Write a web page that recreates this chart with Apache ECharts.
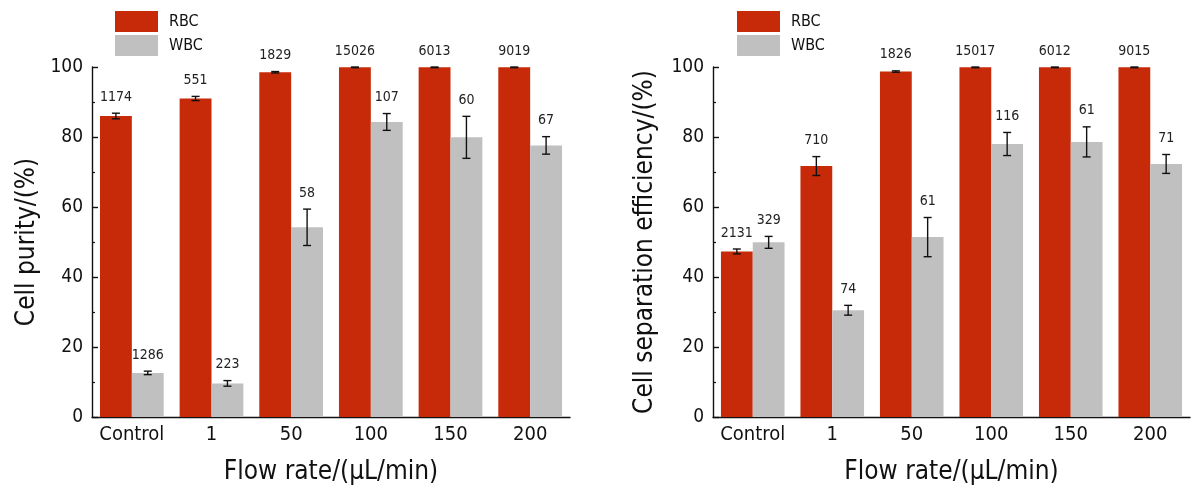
<!DOCTYPE html>
<html>
<head>
<meta charset="utf-8">
<title>Cell purity / separation efficiency</title>
<script src="https://cdn.jsdelivr.net/npm/echarts@6/dist/echarts.min.js"></script>
<style>
  html, body { margin: 0; padding: 0; background: #fff; }
  #main { width: 1200px; height: 495px; }
</style>
</head>
<body>
<div id="main"></div>
<script>
// data
var categories = ['Control', '1', '50', '100', '150', '200'];

var purityRBC    = [86.0, 91.0, 98.5, 99.9, 99.9, 99.9];
var purityRBCErr = [0.8, 0.6, 0.2, 0.1, 0.1, 0.1];
var purityWBC    = [12.6, 9.6, 54.2, 84.3, 79.9, 77.6];
var purityWBCErr = [0.5, 0.8, 5.2, 2.4, 6.0, 2.5];
var purityRBCCount = ['1174', '551', '1829', '15026', '6013', '9019'];
var purityWBCCount = ['1286', '223', '58', '107', '60', '67'];

var effRBC    = [47.3, 71.7, 98.7, 99.9, 99.9, 99.9];
var effRBCErr = [0.7, 2.7, 0.2, 0.1, 0.1, 0.1];
var effWBC    = [49.9, 30.5, 51.4, 78.0, 78.6, 72.3];
var effWBCErr = [1.7, 1.4, 5.6, 3.3, 4.3, 2.7];
var effRBCCount = ['2131', '710', '1826', '15017', '6012', '9015'];
var effWBCCount = ['329', '74', '61', '116', '61', '71'];

var yTicks = [0, 20, 40, 60, 80, 100];

var RED = '#c62a08', GRAY = '#c0c0c0';
var FONT = "'DejaVu Sans Condensed', 'DejaVu Sans', sans-serif";

var myChart = echarts.init(document.getElementById('main'));

// error bar + count label, drawn on top of one of the two bars in a category
function errSeries(name, grid, vals, errs, counts, side) {
    var data = vals.map(function (v, i) { return [i, v, errs[i]]; });
    return {
        name: name,
        type: 'custom',
        xAxisIndex: grid * 2,
        yAxisIndex: grid,
        clip: false,
        silent: true,
        z: 5,
        data: data,
        encode: { x: 0, y: 1 },
        renderItem: function (params, api) {
            var c = api.value(0), v = api.value(1), e = api.value(2);
            var w = api.size([1, 0])[0];
            var x = api.coord([c, v])[0] + side * 0.2 * w;
            var yt = api.coord([c, v + e])[1];
            var yb = api.coord([c, v - e])[1];
            var cap = 4;
            var st = { stroke: '#111', lineWidth: 1.4 };
            return {
                type: 'group',
                children: [
                    { type: 'line', shape: { x1: x, y1: yt, x2: x, y2: yb }, style: st },
                    { type: 'line', shape: { x1: x - cap, y1: yt, x2: x + cap, y2: yt }, style: st },
                    { type: 'line', shape: { x1: x - cap, y1: yb, x2: x + cap, y2: yb }, style: st },
                    { type: 'text', x: x, y: yt - 9,
                      style: { text: counts[params.dataIndex], fill: '#222', font: '14px ' + FONT,
                               align: 'center', verticalAlign: 'bottom' } }
                ]
            };
        }
    };
}

function barSeries(name, grid, vals, color) {
    return {
        name: name,
        type: 'bar',
        xAxisIndex: grid * 2,
        yAxisIndex: grid,
        data: vals,
        barGap: '0%',
        barCategoryGap: '20%',
        itemStyle: { color: color },
        emphasis: { disabled: true }
    };
}

function xAxes(grid) {
    var main = {
        type: 'category',
        gridIndex: grid,
        data: categories,
        name: 'Flow rate/(\u03bcL/min)',
        nameLocation: 'middle',
        nameGap: 42,
        nameTextStyle: { fontSize: 26, fontFamily: FONT, color: '#111' },
        axisLine: { lineStyle: { color: '#111', width: 1.4 } },
        axisTick: { alignWithLabel: true, inside: true, length: 6, lineStyle: { color: '#111', width: 1.4 } },
        axisLabel: { interval: 0, fontSize: 20, fontFamily: FONT, color: '#111', margin: 8 }
    };
    // second axis only for the short ticks on category boundaries
    var bounds = {
        type: 'category',
        gridIndex: grid,
        data: categories,
        position: 'bottom',
        axisLine: { show: false },
        axisTick: { interval: 0, inside: true, length: 3, lineStyle: { color: '#111', width: 1.2 } },
        axisLabel: { show: false }
    };
    return [main, bounds];
}

function yAxis(grid, title, gap) {
    return {
        type: 'value',
        gridIndex: grid,
        min: yTicks[0],
        max: yTicks[yTicks.length - 1],
        interval: yTicks[1] - yTicks[0],
        name: title,
        nameLocation: 'middle',
        nameGap: gap,
        nameTextStyle: { fontSize: 26, fontFamily: FONT, color: '#111' },
        axisLine: { show: true, lineStyle: { color: '#111', width: 1.4 } },
        axisTick: { show: true, inside: true, length: 6, lineStyle: { color: '#111', width: 1.4 } },
        minorTick: { show: true, splitNumber: 2, length: 3, lineStyle: { color: '#111', width: 1.2 } },
        splitLine: { show: false },
        axisLabel: { fontSize: 19, fontFamily: FONT, color: '#111', margin: 9 }
    };
}

function legend(left) {
    return {
        left: left,
        top: 11,
        orient: 'vertical',
        padding: 0,
        itemGap: 3,
        itemWidth: 43,
        itemHeight: 21,
        icon: 'rect',
        selectedMode: false,
        textStyle: { fontSize: 16, fontFamily: FONT, color: '#111', padding: [0, 0, 0, 6] },
        data: ['RBC', 'WBC']
    };
}

option = {
    animation: false,
    backgroundColor: '#fff',
    legend: [legend(115), legend(737)],
    grid: [
        { left: 92, right: 630, top: 67, bottom: 78 },
        { left: 713, right: 10, top: 67, bottom: 78 }
    ],
    xAxis: xAxes(0).concat(xAxes(1)),
    yAxis: [
        yAxis(0, 'Cell purity/(%)', 52),
        yAxis(1, 'Cell separation efficiency/(%)', 55)
    ],
    series: [
        barSeries('RBC', 0, purityRBC, RED),
        barSeries('WBC', 0, purityWBC, GRAY),
        barSeries('RBC', 1, effRBC, RED),
        barSeries('WBC', 1, effWBC, GRAY),
        errSeries('RBC', 0, purityRBC, purityRBCErr, purityRBCCount, -1),
        errSeries('WBC', 0, purityWBC, purityWBCErr, purityWBCCount, 1),
        errSeries('RBC', 1, effRBC, effRBCErr, effRBCCount, -1),
        errSeries('WBC', 1, effWBC, effWBCErr, effWBCCount, 1)
    ]
};

myChart.setOption(option);
</script>
</body>
</html>
